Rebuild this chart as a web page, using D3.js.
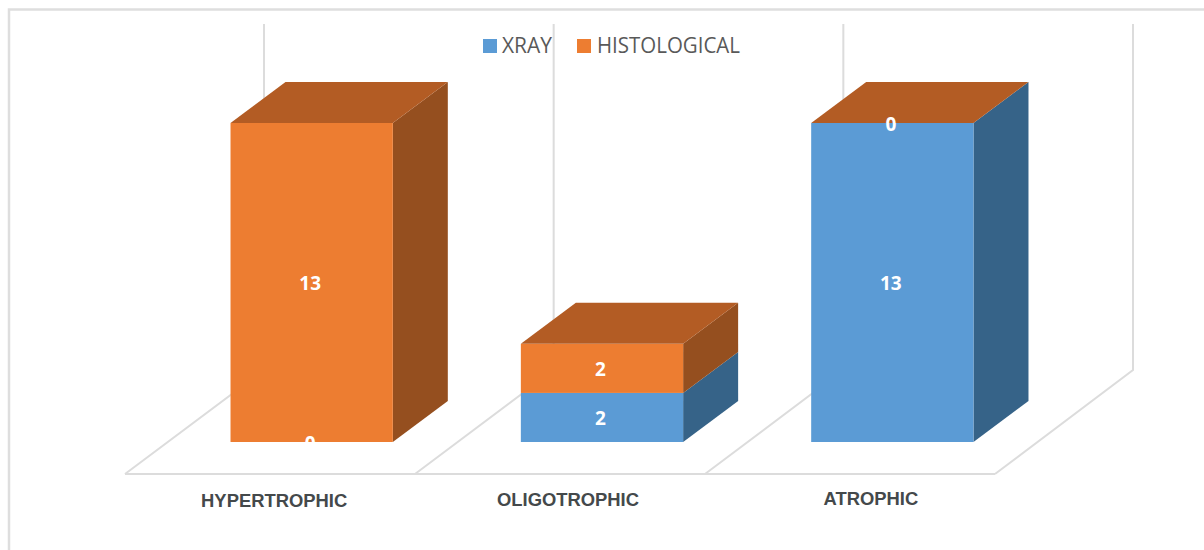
<!DOCTYPE html>
<html>
<head>
<meta charset="utf-8">
<script src="https://cdn.jsdelivr.net/npm/d3@7/dist/d3.min.js"></script>
<style>
html, body { margin: 0; padding: 0; background: #fff; }
svg { display: block; }
</style>
</head>
<body>
<svg id="chart" width="1204" height="550"></svg>
<script>
// Chart values
const categories = ["HYPERTROPHIC", "OLIGOTROPHIC", "ATROPHIC"];
const seriesNames = ["XRAY", "HISTOLOGICAL"];
const xray = [0, 2, 13];
const histological = [13, 2, 0];

// Layout and styling
const W = 1204, H = 550;
const depth = { dx: 55, dy: -41 };
const floor = { frontY: 474, backY: 370, wallTop: 24 };
const labelOffsets = [{ dx: -37.5, y: 501 }, { dx: -34, y: 500 }, { dx: -21.5, y: 499 }];
const palette = {
  XRAY: { front: "#5b9bd5", top: "#44749f", side: "#366388" },
  HISTOLOGICAL: { front: "#ed7d31", top: "#b35c24", side: "#954f1f" }
};
const gridColor = "#dcdcdc";

const svg = d3.select("#chart");

const x = d3.scaleBand().domain(categories).range([166.5, 1037.5])
  .paddingInner(0.441).paddingOuter(0.2205);
const y = d3.scaleLinear().domain([0, 13]).range([442, 123]);
const floorFront = d3.scaleLinear().domain([0, categories.length]).range([125, 995]);
const floorBack = d3.scaleLinear().domain([0, categories.length]).range([264, 1133]);

// Outer frame: only the top and left edges are drawn
svg.append("path")
  .attr("d", `M9,${H}V9.5H${W}`)
  .attr("fill", "none").attr("stroke", "#dedede").attr("stroke-width", 2.5);

// Floor and back wall lines
const grid = svg.append("g").attr("fill", "none")
  .attr("stroke", gridColor).attr("stroke-width", 2);
d3.range(categories.length + 1).forEach(i => {
  grid.append("path").attr("d",
    `M${floorBack(i)},${floor.wallTop}V${floor.backY}L${floorFront(i)},${floor.frontY}`);
});
grid.append("path").attr("d",
  `M${floorFront(0)},${floor.frontY}H${floorFront(categories.length)}`);

// Stacked 3D columns, lower segment first so upper faces sit on top
const stack = d3.stack().keys(seriesNames)(
  categories.map((c, i) => ({ category: c, XRAY: xray[i], HISTOLOGICAL: histological[i] }))
);

const poly = pts => "M" + pts.map(p => p.join(",")).join("L") + "Z";
const bars = svg.append("g");
stack.forEach((layer, layerIndex) => {
  const colors = palette[layer.key];
  layer.forEach(d => {
    const x0 = x(d.data.category), x1 = x0 + x.bandwidth();
    const yLow = y(d[0]), yHigh = y(d[1]);
    const isEmpty = d[1] === d[0];
    // The cap belongs to the last series of the stack, even when that series is zero
    const isUppermost = layerIndex === stack.length - 1;
    if (!isEmpty) {
      bars.append("path").attr("fill", colors.side).attr("d", poly([
        [x1, yHigh], [x1 + depth.dx, yHigh + depth.dy],
        [x1 + depth.dx, yLow + depth.dy], [x1, yLow]
      ]));
      bars.append("rect").attr("x", x0).attr("y", yHigh)
        .attr("width", x.bandwidth()).attr("height", yLow - yHigh)
        .attr("fill", colors.front);
    }
    if (isUppermost) {
      bars.append("path").attr("fill", colors.top).attr("d", poly([
        [x0, yHigh], [x0 + depth.dx, yHigh + depth.dy],
        [x1 + depth.dx, yHigh + depth.dy], [x1, yHigh]
      ]));
    }
  });
});

// Value labels centred on each segment
const values = svg.append("g")
  .attr("font-family", "'Open Sans', sans-serif").attr("font-weight", 700)
  .attr("font-size", 19).attr("fill", "#fff").attr("text-anchor", "middle");
stack.forEach(layer => {
  layer.forEach(d => {
    values.append("text")
      .attr("x", x(d.data.category) + x.bandwidth() / 2 - 1.5)
      .attr("y", y((d[0] + d[1]) / 2))
      .attr("dy", "0.4em")
      .text(d[1] - d[0]);
  });
});

// Category labels
svg.append("g").selectAll("text").data(categories).join("text")
  .attr("x", (c, i) => x(c) + x.bandwidth() / 2 + labelOffsets[i].dx)
  .attr("y", (c, i) => labelOffsets[i].y)
  .attr("dy", "0.35em")
  .attr("text-anchor", "middle")
  .attr("font-family", "'Liberation Sans', Arial, sans-serif")
  .attr("font-weight", 700).attr("font-size", 18.4).attr("fill", "#44494b")
  .text(c => c);

// Legend
const legendItems = [
  { name: seriesNames[0], swatch: 483, text: 502, width: 50 },
  { name: seriesNames[1], swatch: 577, text: 597, width: 143 }
];
const legend = svg.append("g");
legendItems.forEach(it => {
  legend.append("rect").attr("x", it.swatch).attr("y", 39)
    .attr("width", 14).attr("height", 14).attr("fill", palette[it.name].front);
  legend.append("text").attr("x", it.text).attr("y", 53)
    .attr("font-family", "'Open Sans', sans-serif").attr("font-size", 22)
    .attr("fill", "#595959")
    .attr("textLength", it.width).attr("lengthAdjust", "spacingAndGlyphs")
    .text(it.name);
});
</script>
</body>
</html>
